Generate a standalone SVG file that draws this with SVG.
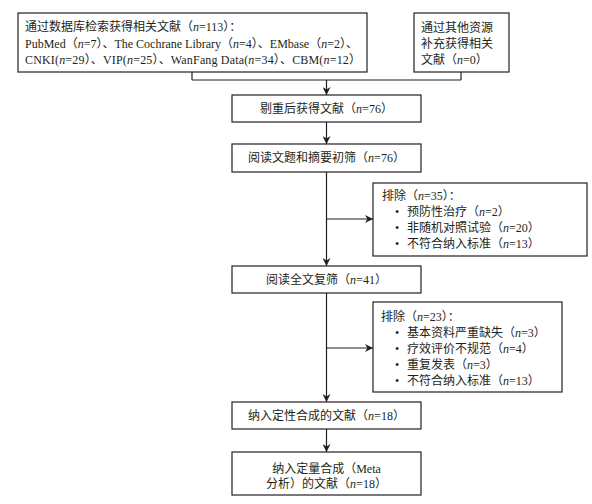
<svg xmlns="http://www.w3.org/2000/svg" width="592" height="504" viewBox="0 0 592 504">
<style>
.box{fill:#fff;stroke:#231f20;stroke-width:1.2}
.ln{fill:none;stroke:#231f20;stroke-width:1.2}
text{font-family:"Liberation Serif","Noto Sans CJK SC",serif;font-size:12px;fill:#231f20}
.c{text-anchor:middle}
.i{font-style:italic}
</style>
<defs>
<marker id="ah" viewBox="0 0 10 10" refX="10" refY="5" markerWidth="8" markerHeight="8" markerUnits="userSpaceOnUse" orient="auto">
<path d="M0,0 L10,5 L0,10 L3,5 Z" fill="#231f20"/>
</marker>
</defs>
<g id="connectors">
<path class="ln" d="M192,72 V80 M461,72 V80 M192,80 H461"/>
<path class="ln" d="M326.5,80 V95" marker-end="url(#ah)"/>
<path class="ln" d="M326.5,122 V144" marker-end="url(#ah)"/>
<path class="ln" d="M326.5,172 V266" marker-end="url(#ah)"/>
<path class="ln" d="M326.5,219 H373" marker-end="url(#ah)"/>
<path class="ln" d="M326.5,293 V402" marker-end="url(#ah)"/>
<path class="ln" d="M326.5,348 H373" marker-end="url(#ah)"/>
<path class="ln" d="M326.5,429 V452" marker-end="url(#ah)"/>
</g>
<g id="db">
<rect class="box" x="18" y="13" width="349" height="59"/>
<text x="25" y="31">通过数据库检索获得相关文献（<tspan class="i">n</tspan>=113）：</text>
<text x="25" y="48">PubMed（<tspan class="i">n</tspan>=7）、The Cochrane Library（<tspan class="i">n</tspan>=4）、EMbase（<tspan class="i">n</tspan>=2）、</text>
<text x="25" y="64" textLength="336" lengthAdjust="spacing">CNKI(<tspan class="i">n</tspan>=29）、VIP(<tspan class="i">n</tspan>=25）、WanFang Data(<tspan class="i">n</tspan>=34）、CBM(<tspan class="i">n</tspan>=12）</text>
</g>
<g id="other">
<rect class="box" x="414" y="13" width="95" height="59"/>
<text x="421" y="32">通过其他资源</text>
<text x="421" y="48">补充获得相关</text>
<text x="421" y="64">文献（<tspan class="i">n</tspan>=0）</text>
</g>
<g id="dedup">
<rect class="box" x="232" y="95" width="189" height="27"/>
<text class="c" x="326.5" y="113">剔重后获得文献（<tspan class="i">n</tspan>=76）</text>
</g>
<g id="screen1">
<rect class="box" x="232" y="144" width="189" height="28"/>
<text class="c" x="326.5" y="162">阅读文题和摘要初筛（<tspan class="i">n</tspan>=76）</text>
</g>
<g id="excl1">
<rect class="box" x="373" y="183" width="214" height="73"/>
<text x="382" y="200">排除（<tspan class="i">n</tspan>=35）：</text>
<text x="395" y="216">•</text><text x="407" y="216">预防性治疗（<tspan class="i">n</tspan>=2）</text>
<text x="395" y="232">•</text><text x="407" y="232">非随机对照试验（<tspan class="i">n</tspan>=20）</text>
<text x="395" y="248">•</text><text x="407" y="248">不符合纳入标准（<tspan class="i">n</tspan>=13）</text>
</g>
<g id="screen2">
<rect class="box" x="232" y="266" width="189" height="27"/>
<text class="c" x="326.5" y="284">阅读全文复筛（<tspan class="i">n</tspan>=41）</text>
</g>
<g id="excl2">
<rect class="box" x="373" y="302" width="189" height="90"/>
<text x="381" y="321">排除（<tspan class="i">n</tspan>=23）：</text>
<text x="395" y="337">•</text><text x="407" y="337">基本资料严重缺失（<tspan class="i">n</tspan>=3）</text>
<text x="395" y="353">•</text><text x="407" y="353">疗效评价不规范（<tspan class="i">n</tspan>=4）</text>
<text x="395" y="369">•</text><text x="407" y="369">重复发表（<tspan class="i">n</tspan>=3）</text>
<text x="395" y="385">•</text><text x="407" y="385">不符合纳入标准（<tspan class="i">n</tspan>=13）</text>
</g>
<g id="qual">
<rect class="box" x="232" y="402" width="189" height="27"/>
<text class="c" x="326.5" y="420">纳入定性合成的文献（<tspan class="i">n</tspan>=18）</text>
</g>
<g id="quant">
<rect class="box" x="232" y="452" width="189" height="43"/>
<text class="c" x="326.5" y="473">纳入定量合成（Meta</text>
<text class="c" x="326.5" y="488">分析）的文献（<tspan class="i">n</tspan>=18）</text>
</g>
</svg>
